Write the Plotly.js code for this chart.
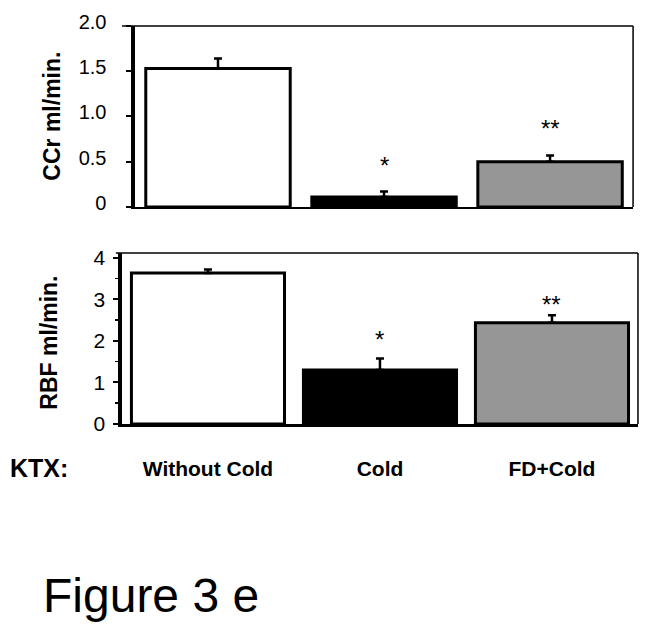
<!DOCTYPE html>
<html>
<head>
<meta charset="utf-8">
<script src="https://cdn.plot.ly/plotly-3.0.1.min.js"></script>
<style>
  html, body { margin: 0; padding: 0; background: #fff; }
  #chart { width: 654px; height: 632px; }
</style>
</head>
<body>
<div id="chart"></div>
<script>
// groups (KTX condition)
var groups = ['Without Cold', 'Cold', 'FD+Cold'];
var barColors = ['#ffffff', '#000000', '#969696'];

// creatinine clearance, ml/min
var ccrMean = [1.53, 0.11, 0.50];
var ccrErr = [0.11, 0.06, 0.07];
var ccrStars = ['', '*', '**'];
var ccrStarY = [0, 0.49, 0.90];

// renal blood flow, ml/min
var rbfMean = [3.64, 1.30, 2.44];
var rbfErr = [0.08, 0.28, 0.18];
var rbfStars = ['', '*', '**'];
var rbfStarY = [0, 2.10, 2.96];

var font = 'Arial, "Liberation Sans", sans-serif';

function barTrace(means, errs, xa, ya) {
	return {
		type: 'bar',
		x: groups,
		y: means,
		xaxis: xa,
		yaxis: ya,
		width: xa == 'x' ? 0.87 : 0.89,
		marker: {
			color: barColors,
			line: {color: '#000', width: 3},
		},
		error_y: {
			type: 'data',
			symmetric: false,
			array: errs,
			arrayminus: errs.map(function() { return 0; }),
			color: '#000',
			thickness: 2.5,
			width: 4,
		},
		hoverinfo: 'skip',
		showlegend: false,
	};
}

var data = [
	barTrace(ccrMean, ccrErr, 'x', 'y'),
	barTrace(rbfMean, rbfErr, 'x2', 'y2'),
];

var annotations = [];
function addStars(stars, ys, xr, yr) {
	for(var i = 0; i < stars.length; i++) {
		if(!stars[i]) continue;
		annotations.push({
			text: stars[i], x: groups[i], y: ys[i], xref: xr, yref: yr,
			showarrow: false, xanchor: 'center', yanchor: 'middle', yshift: -3,
			font: {family: font, size: 24, color: '#000'},
		});
	}
}
addStars(ccrStars, ccrStarY, 'x', 'y');
addStars(rbfStars, rbfStarY, 'x2', 'y2');

annotations.push(
	{text: '<b>CCr ml/min.</b>', textangle: -90, x: 0.079, y: 0.8165, xref: 'paper', yref: 'paper',
		xanchor: 'center', yanchor: 'middle',
		showarrow: false, font: {family: font, size: 23, color: '#000'}},
	{text: '<b>RBF ml/min.</b>', textangle: -90, x: 0.0745, y: 0.4573, xref: 'paper', yref: 'paper',
		xanchor: 'center', yanchor: 'middle',
		showarrow: false, font: {family: font, size: 23, color: '#000'}},
	{text: '<b>KTX:</b>', x: 0.0596, y: 0.2595, xref: 'paper', yref: 'paper',
		xanchor: 'center', yanchor: 'middle',
		showarrow: false, font: {family: font, size: 25, color: '#000'}},
	{text: 'Figure 3 e', x: 0.062, y: 0.0575, xref: 'paper', yref: 'paper',
		xanchor: 'left', yanchor: 'middle',
		showarrow: false, font: {family: font, size: 48, color: '#000'}}
);

// frame lines (thin top and right borders)
var shapes = [
	{type: 'line', xref: 'x domain', yref: 'y domain', x0: -0.026, x1: 1, y0: 1, y1: 1, line: {color: '#000', width: 1.5}},
	{type: 'line', xref: 'x domain', yref: 'y domain', x0: 1, x1: 1, y0: 0, y1: 1, line: {color: '#000', width: 1.5}},
	{type: 'line', xref: 'x2 domain', yref: 'y2 domain', x0: -0.012, x1: 1, y0: 1, y1: 1, line: {color: '#000', width: 1.5}},
	{type: 'line', xref: 'x2 domain', yref: 'y2 domain', x0: 1, x1: 1, y0: 0, y1: 1, line: {color: '#000', width: 1.5}},
];

var layout = {
	width: 654,
	height: 632,
	margin: {l: 0, r: 0, t: 0, b: 0},
	paper_bgcolor: '#fff',
	plot_bgcolor: '#fff',
	font: {family: font, color: '#000'},
	xaxis: {
		domain: [0.2064, 0.968],
		anchor: 'y',
		range: [-0.5, 2.5],
		showticklabels: false,
		ticks: '',
		showline: true, linecolor: '#000', linewidth: 2.5,
		showgrid: false, zeroline: false,
		fixedrange: true,
	},
	yaxis: {
		domain: [0.6725, 0.9589],
		anchor: 'x',
		range: [0, 2],
		tickvals: [0, 0.5, 1, 1.5, 2],
		ticktext: ['0', '0.5', '1.0', '1.5', '2.0'],
		ticks: 'outside', ticklen: 5, tickwidth: 2, tickcolor: '#000',
		ticklabelstandoff: 16,
		ticklabelshift: -4,
		tickfont: {family: font, size: 20, color: '#000'},
		showline: true, linecolor: '#000', linewidth: 3.5,
		showgrid: false, zeroline: false,
		fixedrange: true,
	},
	xaxis2: {
		domain: [0.1865, 0.9755],
		anchor: 'y2',
		range: [-0.5, 2.5],
		ticks: '',
		ticklabelstandoff: 24,
		tickfont: {family: font, size: 21, color: '#000', weight: 'bold'},
		showline: true, linecolor: '#000', linewidth: 2.5,
		showgrid: false, zeroline: false,
		fixedrange: true,
	},
	yaxis2: {
		domain: [0.3291, 0.5997],
		anchor: 'x2',
		range: [0, 4.12],
		tickvals: [0, 1, 2, 3, 4],
		ticks: 'outside', ticklen: 5, tickwidth: 2, tickcolor: '#000',
		minor: {dtick: 0.5, ticks: 'outside', ticklen: 3, tickwidth: 1.5, tickcolor: '#000'},
		ticklabelstandoff: 4,
		tickfont: {family: font, size: 21, color: '#000'},
		showline: true, linecolor: '#000', linewidth: 3.5,
		showgrid: false, zeroline: false,
		fixedrange: true,
	},
	annotations: annotations,
	shapes: shapes,
	bargap: 0.1,
};

Plotly.newPlot('chart', data, layout, {displayModeBar: false, staticPlot: true});
</script>
</body>
</html>
